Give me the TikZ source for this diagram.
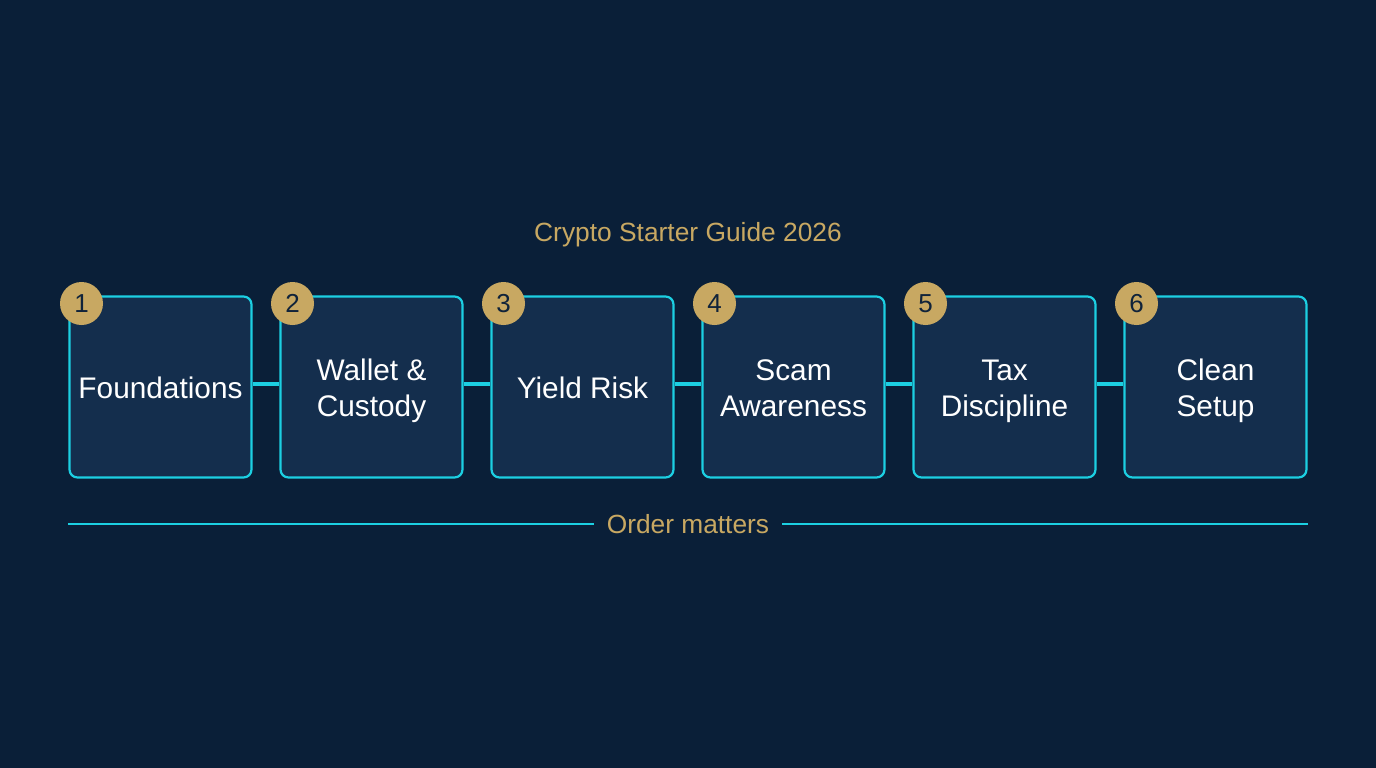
\documentclass[tikz,border=0pt]{standalone}
\usepackage{fontspec}
\setmainfont{Liberation Sans}
\definecolor{bgc}{HTML}{0A1F38}
\definecolor{boxc}{HTML}{142E4D}
\definecolor{cyanc}{HTML}{1CCFE2}
\definecolor{goldc}{HTML}{C8A862}
\definecolor{inkc}{HTML}{10233A}
\newcommand{\lnstrut}{\rule[-6.5pt]{0pt}{35pt}}
\tikzset{
  stepbox/.style={draw=cyanc,fill=boxc,line width=2.2pt,rounded corners=8pt,minimum width=182pt,minimum height=181pt,inner sep=0pt,align=center,text=white,font=\fontsize{29.8}{36}\selectfont},
  badge/.style={circle,fill=goldc,minimum size=43pt,inner sep=0pt,text=inkc,font=\fontsize{26}{30}\selectfont},
  link/.style={draw=cyanc,line width=4.5pt},
  rule/.style={draw=cyanc,line width=1.1pt},
  goldtext/.style={text=goldc,inner sep=0pt}
}
\begin{document}
\begin{tikzpicture}[x=1pt,y=-1pt]
\useasboundingbox (0,0) rectangle (1376,768);
\fill[bgc] (0,0) rectangle (1376,768);
\node[goldtext,font=\fontsize{26.35}{30}\selectfont] (title) at (688,234.5) {Crypto Starter Guide 2026};
\node[stepbox] (s1) at (160.5,387) {\lnstrut Foundations};
\node[stepbox] (s2) at (371.5,387) {\lnstrut Wallet \&\\\lnstrut Custody};
\node[stepbox] (s3) at (582.5,387) {\lnstrut Yield Risk};
\node[stepbox] (s4) at (793.5,387) {\lnstrut Scam\\\lnstrut Awareness};
\node[stepbox] (s5) at (1004.5,387) {\lnstrut Tax\\\lnstrut Discipline};
\node[stepbox] (s6) at (1215.5,387) {\lnstrut Clean\\\lnstrut Setup};
\foreach \a/\b in {s1/s2,s2/s3,s3/s4,s4/s5,s5/s6}
  \draw[link] ([yshift=3pt]\a.east) -- ([yshift=3pt]\b.west);
\node[badge] (b1) at (81.5,303.5) {1};
\node[badge] (b2) at (292.5,303.5) {2};
\node[badge] (b3) at (503.5,303.5) {3};
\node[badge] (b4) at (714.5,303.5) {4};
\node[badge] (b5) at (925.5,303.5) {5};
\node[badge] (b6) at (1136.5,303.5) {6};
\node[goldtext,font=\fontsize{26.3}{30}\selectfont] (order) at (688,524.5) {Order matters};
\coordinate (ruleL) at (68,524);
\coordinate (ruleLe) at (594,524);
\coordinate (ruleRs) at (782,524);
\coordinate (ruleR) at (1308,524);
\draw[rule] (ruleL) -- (ruleLe);
\draw[rule] (ruleRs) -- (ruleR);
\end{tikzpicture}
\end{document}
